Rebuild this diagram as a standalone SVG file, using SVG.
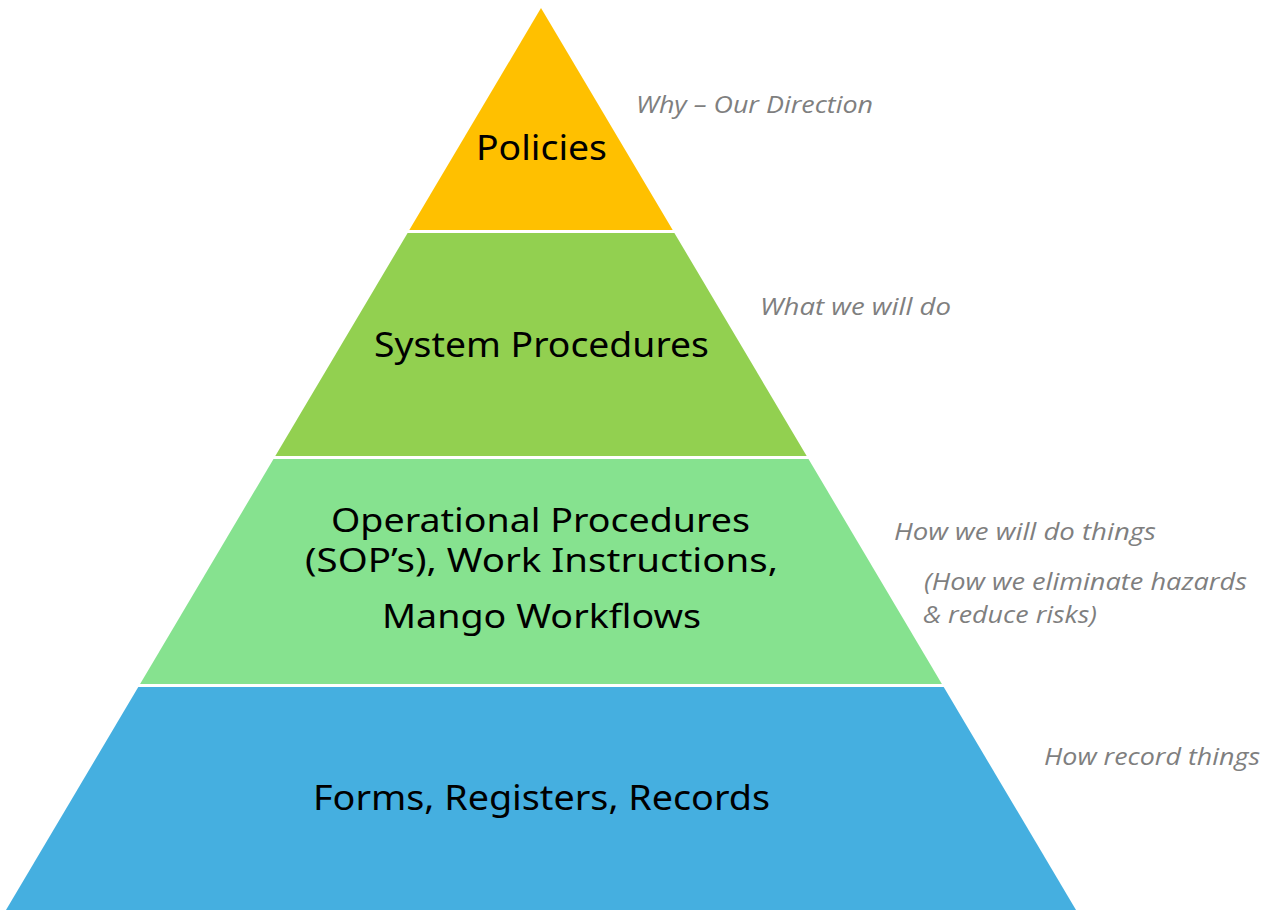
<svg xmlns="http://www.w3.org/2000/svg" width="1280" height="914" viewBox="0 0 1280 914">
  <style>
    .lbl { font-family: "Noto Sans", "Open Sans", "Liberation Sans", sans-serif; font-size: 34px; fill: #000000; text-anchor: start; }
    .lbl2 { font-family: "Noto Sans", "Open Sans", "Liberation Sans", sans-serif; font-size: 32px; fill: #000000; text-anchor: start; }
    .note { font-family: "Open Sans", "Noto Sans", "Liberation Sans", sans-serif; font-style: italic; font-size: 23px; fill: #7f7f7f; }
  </style>
  <rect x="0" y="0" width="1280" height="914" fill="#ffffff"/>
  <g id="policies">
    <polygon points="541,8 672.7,230 409.3,230" fill="#FFC000"/>
    <text class="lbl" x="476" y="160" textLength="131" lengthAdjust="spacingAndGlyphs">Policies</text>
  </g>
  <g id="system-procedures">
    <polygon points="407.6,233 674.4,233 806.7,456 275.3,456" fill="#92D050"/>
    <text class="lbl" x="374" y="357" textLength="335" lengthAdjust="spacingAndGlyphs">System Procedures</text>
  </g>
  <g id="operational-procedures">
    <polygon points="273.5,459 808.5,459 941.9,684 140.1,684" fill="#86E28F"/>
    <text class="lbl2" x="331" y="532" textLength="419" lengthAdjust="spacingAndGlyphs">Operational Procedures</text>
    <text class="lbl2" x="305" y="572" textLength="473" lengthAdjust="spacingAndGlyphs">(SOP’s), Work Instructions,</text>
    <text class="lbl2" x="382" y="628" textLength="319" lengthAdjust="spacingAndGlyphs">Mango Workflows</text>
  </g>
  <g id="forms-registers-records">
    <polygon points="138.3,687 943.7,687 1076,910 6,910" fill="#45AFE0"/>
    <text class="lbl" x="313" y="810" textLength="457" lengthAdjust="spacingAndGlyphs">Forms, Registers, Records</text>
  </g>
  <g id="notes">
    <text class="note" x="636" y="113" textLength="237" lengthAdjust="spacingAndGlyphs">Why – Our Direction</text>
    <text class="note" x="760" y="315" textLength="191" lengthAdjust="spacingAndGlyphs">What we will do</text>
    <text class="note" x="894" y="540" textLength="262" lengthAdjust="spacingAndGlyphs">How we will do things</text>
    <text class="note" x="924" y="590" textLength="323" lengthAdjust="spacingAndGlyphs">(How we eliminate hazards</text>
    <text class="note" x="923" y="623" textLength="174" lengthAdjust="spacingAndGlyphs">&amp; reduce risks)</text>
    <text class="note" x="1044" y="765" textLength="216" lengthAdjust="spacingAndGlyphs">How record things</text>
  </g>
  <g id="connectors"></g>
</svg>
